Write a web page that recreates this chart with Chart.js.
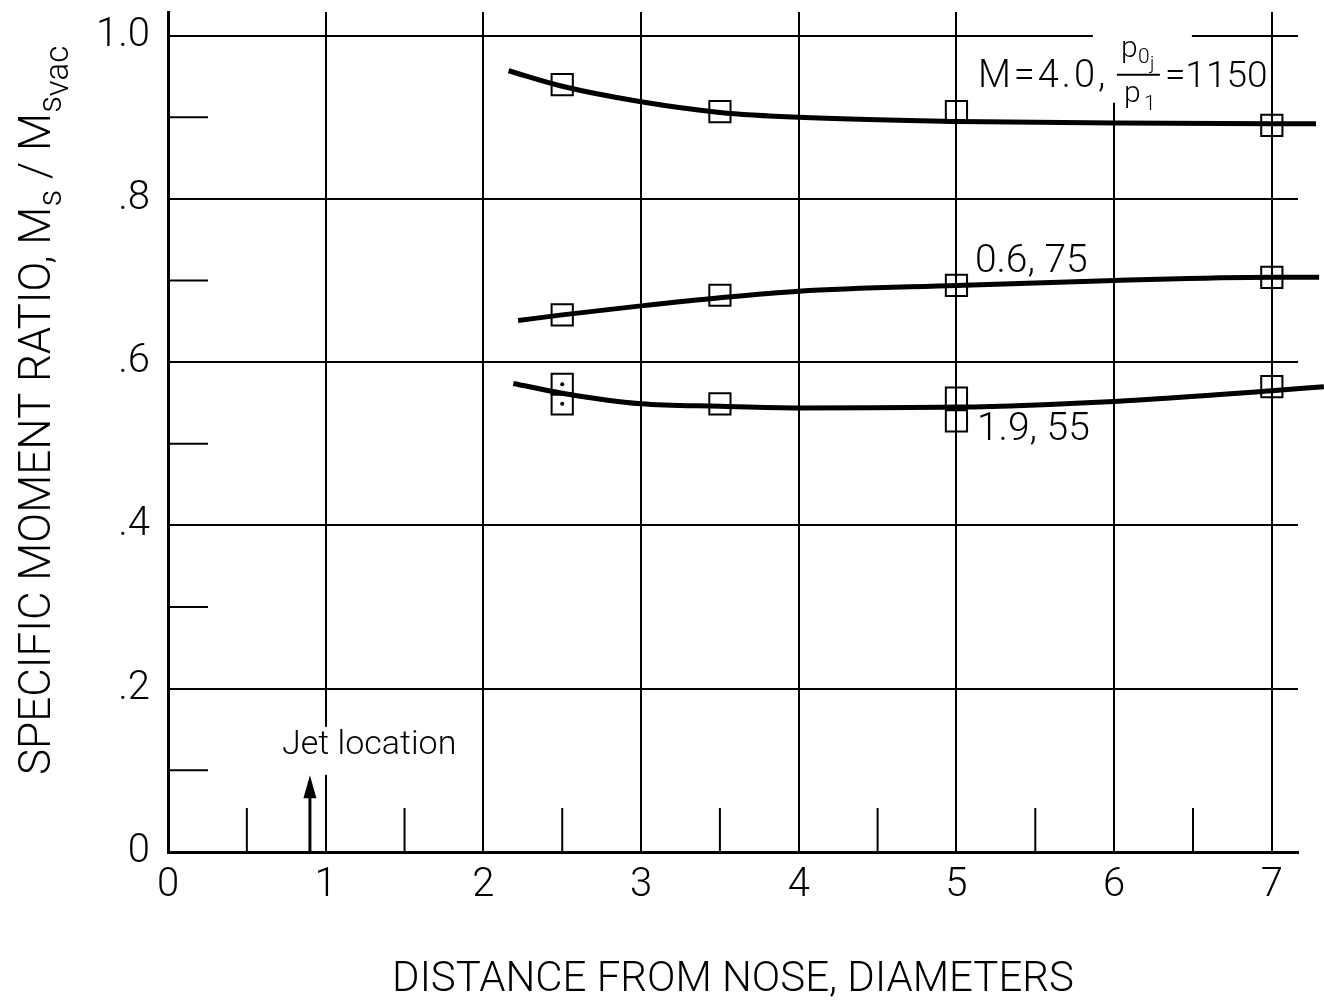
<!DOCTYPE html>
<html>
<head>
<meta charset="utf-8">
<script src="https://cdn.jsdelivr.net/npm/chart.js@4.4.1/dist/chart.umd.min.js"></script>
<style>
  html, body { margin: 0; padding: 0; background: #fff; }
  #wrap { width: 1324px; height: 1006px; }
</style>
</head>
<body>
<div id="wrap"><canvas id="momentChart"></canvas></div>
<script>
// --- DATA ---
const xTicks = [0, 1, 2, 3, 4, 5, 6, 7];
const xMinorTicks = [0.5, 1.5, 2.5, 3.5, 4.5, 5.5, 6.5];
const yTicks = [0, 0.2, 0.4, 0.6, 0.8, 1.0];
const yTickLabels = ['0', '.2', '.4', '.6', '.8', '1.0'];
const yMinorTicks = [0.1, 0.3, 0.5, 0.7, 0.9];

// faired curves (M = 4.0 / 0.6 / 1.9)
const curveM40x = [2.16, 2.5, 3.0, 3.5, 4.0, 5.0, 6.0, 7.0, 7.28];
const curveM40y = [0.957, 0.938, 0.919, 0.906, 0.900, 0.895, 0.893, 0.892, 0.892];
const curveM06x = [2.22, 2.5, 3.0, 3.5, 4.0, 5.0, 6.0, 7.0, 7.3];
const curveM06y = [0.651, 0.658, 0.669, 0.679, 0.687, 0.694, 0.700, 0.704, 0.704];
const curveM19x = [2.19, 2.5, 3.0, 3.5, 4.0, 5.0, 6.0, 7.0, 7.33];
const curveM19y = [0.574, 0.562, 0.549, 0.546, 0.544, 0.545, 0.552, 0.565, 0.570];

// test points (open squares)
const pointsM40x = [2.5, 3.5, 5.0, 7.0];
const pointsM40y = [0.940, 0.907, 0.907, 0.890];
const pointsM06x = [2.5, 3.5, 5.0, 7.0];
const pointsM06y = [0.658, 0.682, 0.694, 0.704];
const pointsM19x = [2.5, 2.5, 3.5, 5.0, 5.0, 7.0];
const pointsM19y = [0.573, 0.549, 0.549, 0.556, 0.528, 0.570];
// the two squares at 2.5 with a dot inside
const dottedX = [2.5, 2.5];
const dottedY = [0.573, 0.549];

const jetLocation = 0.9;

// --- HELPERS ---
const FAMILY = 'Roboto, "Liberation Sans", sans-serif';
function fontStr(size) { return '300 ' + size + 'px ' + FAMILY; }
function toXY(xs, ys) { return xs.map((v, i) => ({ x: v, y: ys[i] })); }

function curveSet(xs, ys) {
    return {
        data: toXY(xs, ys),
        showLine: true,
        borderColor: '#000',
        borderWidth: 5,
        pointRadius: 0,
        cubicInterpolationMode: 'monotone',
        clip: false
    };
}
function pointSet(xs, ys) {
    return {
        data: toXY(xs, ys),
        showLine: false,
        pointStyle: 'rect',
        pointRadius: 15,
        borderColor: '#000',
        borderWidth: 2,
        backgroundColor: 'rgba(0,0,0,0)'
    };
}

function text(ctx, str, x, y, size, align, baseline) {
    ctx.font = fontStr(size);
    ctx.textAlign = align || 'left';
    ctx.textBaseline = baseline || 'alphabetic';
    ctx.fillText(str, x, y);
}
function whiteBox(ctx, x0, y0, x1, y1) {
    ctx.fillStyle = '#fff';
    ctx.fillRect(x0, y0, x1 - x0, y1 - y0);
    ctx.fillStyle = '#000';
}

// --- DECOR PLUGIN (minor ticks, labels, arrow, y title) ---
const decorPlugin = {
    id: 'decor',
    beforeDraw(chart) {
        const ctx = chart.ctx;
        ctx.save();
        ctx.fillStyle = '#fff';
        ctx.fillRect(0, 0, chart.width, chart.height);
        ctx.restore();
    },
    beforeDatasetsDraw(chart) {
        const { ctx, scales: { x, y } } = chart;
        const x0 = x.getPixelForValue(0);
        const y0 = y.getPixelForValue(0);
        ctx.save();
        ctx.strokeStyle = '#000';
        ctx.lineWidth = 2;
        xMinorTicks.forEach(v => {
            const px = x.getPixelForValue(v);
            ctx.beginPath();
            ctx.moveTo(px, y0);
            ctx.lineTo(px, y0 - 44);
            ctx.stroke();
        });
        yMinorTicks.forEach(v => {
            const py = y.getPixelForValue(v);
            ctx.beginPath();
            ctx.moveTo(x0, py);
            ctx.lineTo(x0 + 40, py);
            ctx.stroke();
        });
        ctx.restore();
    },
    afterDraw(chart) {
        const { ctx, scales: { x, y } } = chart;
        ctx.save();
        ctx.fillStyle = '#000';
        ctx.strokeStyle = '#000';

        // label M = 4.0, p0j/p1 = 1150
        let ax = x.getPixelForValue(5.136), ay = y.getPixelForValue(0.9485);
        whiteBox(ctx, ax + 115, ay - 66, ax + 214, ay + 25);
        ctx.letterSpacing = '3px';
        text(ctx, 'M=4.0,', ax, ay, 38, 'left', 'middle');
        ctx.letterSpacing = '0px';
        text(ctx, '=1150', ax + 187, ay, 37, 'left', 'middle');
        ctx.lineWidth = 2;
        ctx.beginPath();
        ctx.moveTo(ax + 139, ay - 3);
        ctx.lineTo(ax + 182, ay - 3);
        ctx.stroke();
        text(ctx, 'p', ax + 143, ay - 21, 30);
        text(ctx, '0', ax + 160, ay - 15, 21);
        text(ctx, 'j', ax + 172, ay - 9, 19);
        text(ctx, 'p', ax + 146, ay + 24, 30);
        text(ctx, '1', ax + 166, ay + 32, 21);

        // label 0.6, 75
        text(ctx, '0.6, 75', x.getPixelForValue(5.117), y.getPixelForValue(0.723), 39, 'left', 'middle');
        // label 1.9, 55
        text(ctx, '1.9, 55', x.getPixelForValue(5.13), y.getPixelForValue(0.517), 39, 'left', 'middle');

        // jet location
        const jx = x.getPixelForValue(0.723), jy = y.getPixelForValue(0.130);
        whiteBox(ctx, jx - 4, jy - 19, jx + 186, jy + 29);
        text(ctx, 'Jet location', jx, jy, 34, 'left', 'middle');
        const px = x.getPixelForValue(jetLocation);
        const pBase = y.getPixelForValue(0);
        const pTip = y.getPixelForValue(0.094);
        ctx.lineWidth = 3;
        ctx.beginPath();
        ctx.moveTo(px, pBase);
        ctx.lineTo(px, pTip + 18);
        ctx.stroke();
        ctx.beginPath();
        ctx.moveTo(px, pTip);
        ctx.lineTo(px - 6.5, pTip + 23);
        ctx.lineTo(px + 6.5, pTip + 23);
        ctx.closePath();
        ctx.fill();

        // y axis title, rotated, with subscripts
        ctx.translate(50, 775);
        ctx.rotate(-Math.PI / 2);
        const parts = [
            ['SPECIFIC MOMENT RATIO, M', 44, 0],
            ['s', 33, 11],
            [' / M', 44, 0],
            ['s', 33, 11],
            ['vac', 33, 18]
        ];
        let cx = 0;
        parts.forEach(p => {
            ctx.font = fontStr(p[1]);
            ctx.textAlign = 'left';
            ctx.textBaseline = 'alphabetic';
            ctx.fillText(p[0], cx, p[2]);
            cx += ctx.measureText(p[0]).width;
        });
        ctx.restore();
    }
};

// --- CHART ---
const ctx = document.getElementById('momentChart').getContext('2d');
const momentChart = new Chart(ctx, {
    type: 'scatter',
    data: {
        datasets: [
            curveSet(curveM40x, curveM40y),
            curveSet(curveM06x, curveM06y),
            curveSet(curveM19x, curveM19y),
            pointSet(pointsM40x, pointsM40y),
            pointSet(pointsM06x, pointsM06y),
            pointSet(pointsM19x, pointsM19y),
            {
                data: toXY(dottedX, dottedY),
                pointStyle: 'circle',
                pointRadius: 2,
                borderWidth: 0,
                backgroundColor: '#000'
            }
        ]
    },
    options: {
        responsive: true,
        maintainAspectRatio: false,
        animation: false,
        events: [],
        layout: { autoPadding: false, padding: { top: 12, right: 26, left: 0, bottom: 0 } },
        plugins: { legend: { display: false }, tooltip: { enabled: false } },
        scales: {
            x: {
                type: 'linear',
                min: 0,
                max: 7.166,
                afterBuildTicks: s => { s.ticks = xTicks.map(v => ({ value: v })); },
                afterFit: s => { s.height = 154; s.paddingLeft = 0; s.paddingRight = 0; },
                grid: { color: '#000', lineWidth: 2, drawTicks: false },
                border: { color: '#000', width: 3 },
                ticks: {
                    color: '#000',
                    font: { family: FAMILY, size: 40, weight: 300 },
                    padding: 10,
                    maxRotation: 0,
                    callback: v => String(v)
                },
                title: {
                    display: true,
                    text: 'DISTANCE FROM NOSE, DIAMETERS',
                    color: '#000',
                    font: { family: FAMILY, size: 42, weight: 300 },
                    padding: { top: 0, bottom: 0 }
                }
            },
            y: {
                type: 'linear',
                min: 0,
                max: 1.029,
                afterBuildTicks: s => { s.ticks = yTicks.map(v => ({ value: v })); },
                afterFit: s => { s.width = 168; s.paddingTop = 0; s.paddingBottom = 0; },
                grid: { color: '#000', lineWidth: 2, drawTicks: false },
                border: { color: '#000', width: 3 },
                ticks: {
                    color: '#000',
                    font: { family: FAMILY, size: 40, weight: 300 },
                    padding: 18,
                    callback: (v, i) => yTickLabels[i]
                }
            }
        }
    },
    plugins: [decorPlugin]
});
</script>
</body>
</html>
